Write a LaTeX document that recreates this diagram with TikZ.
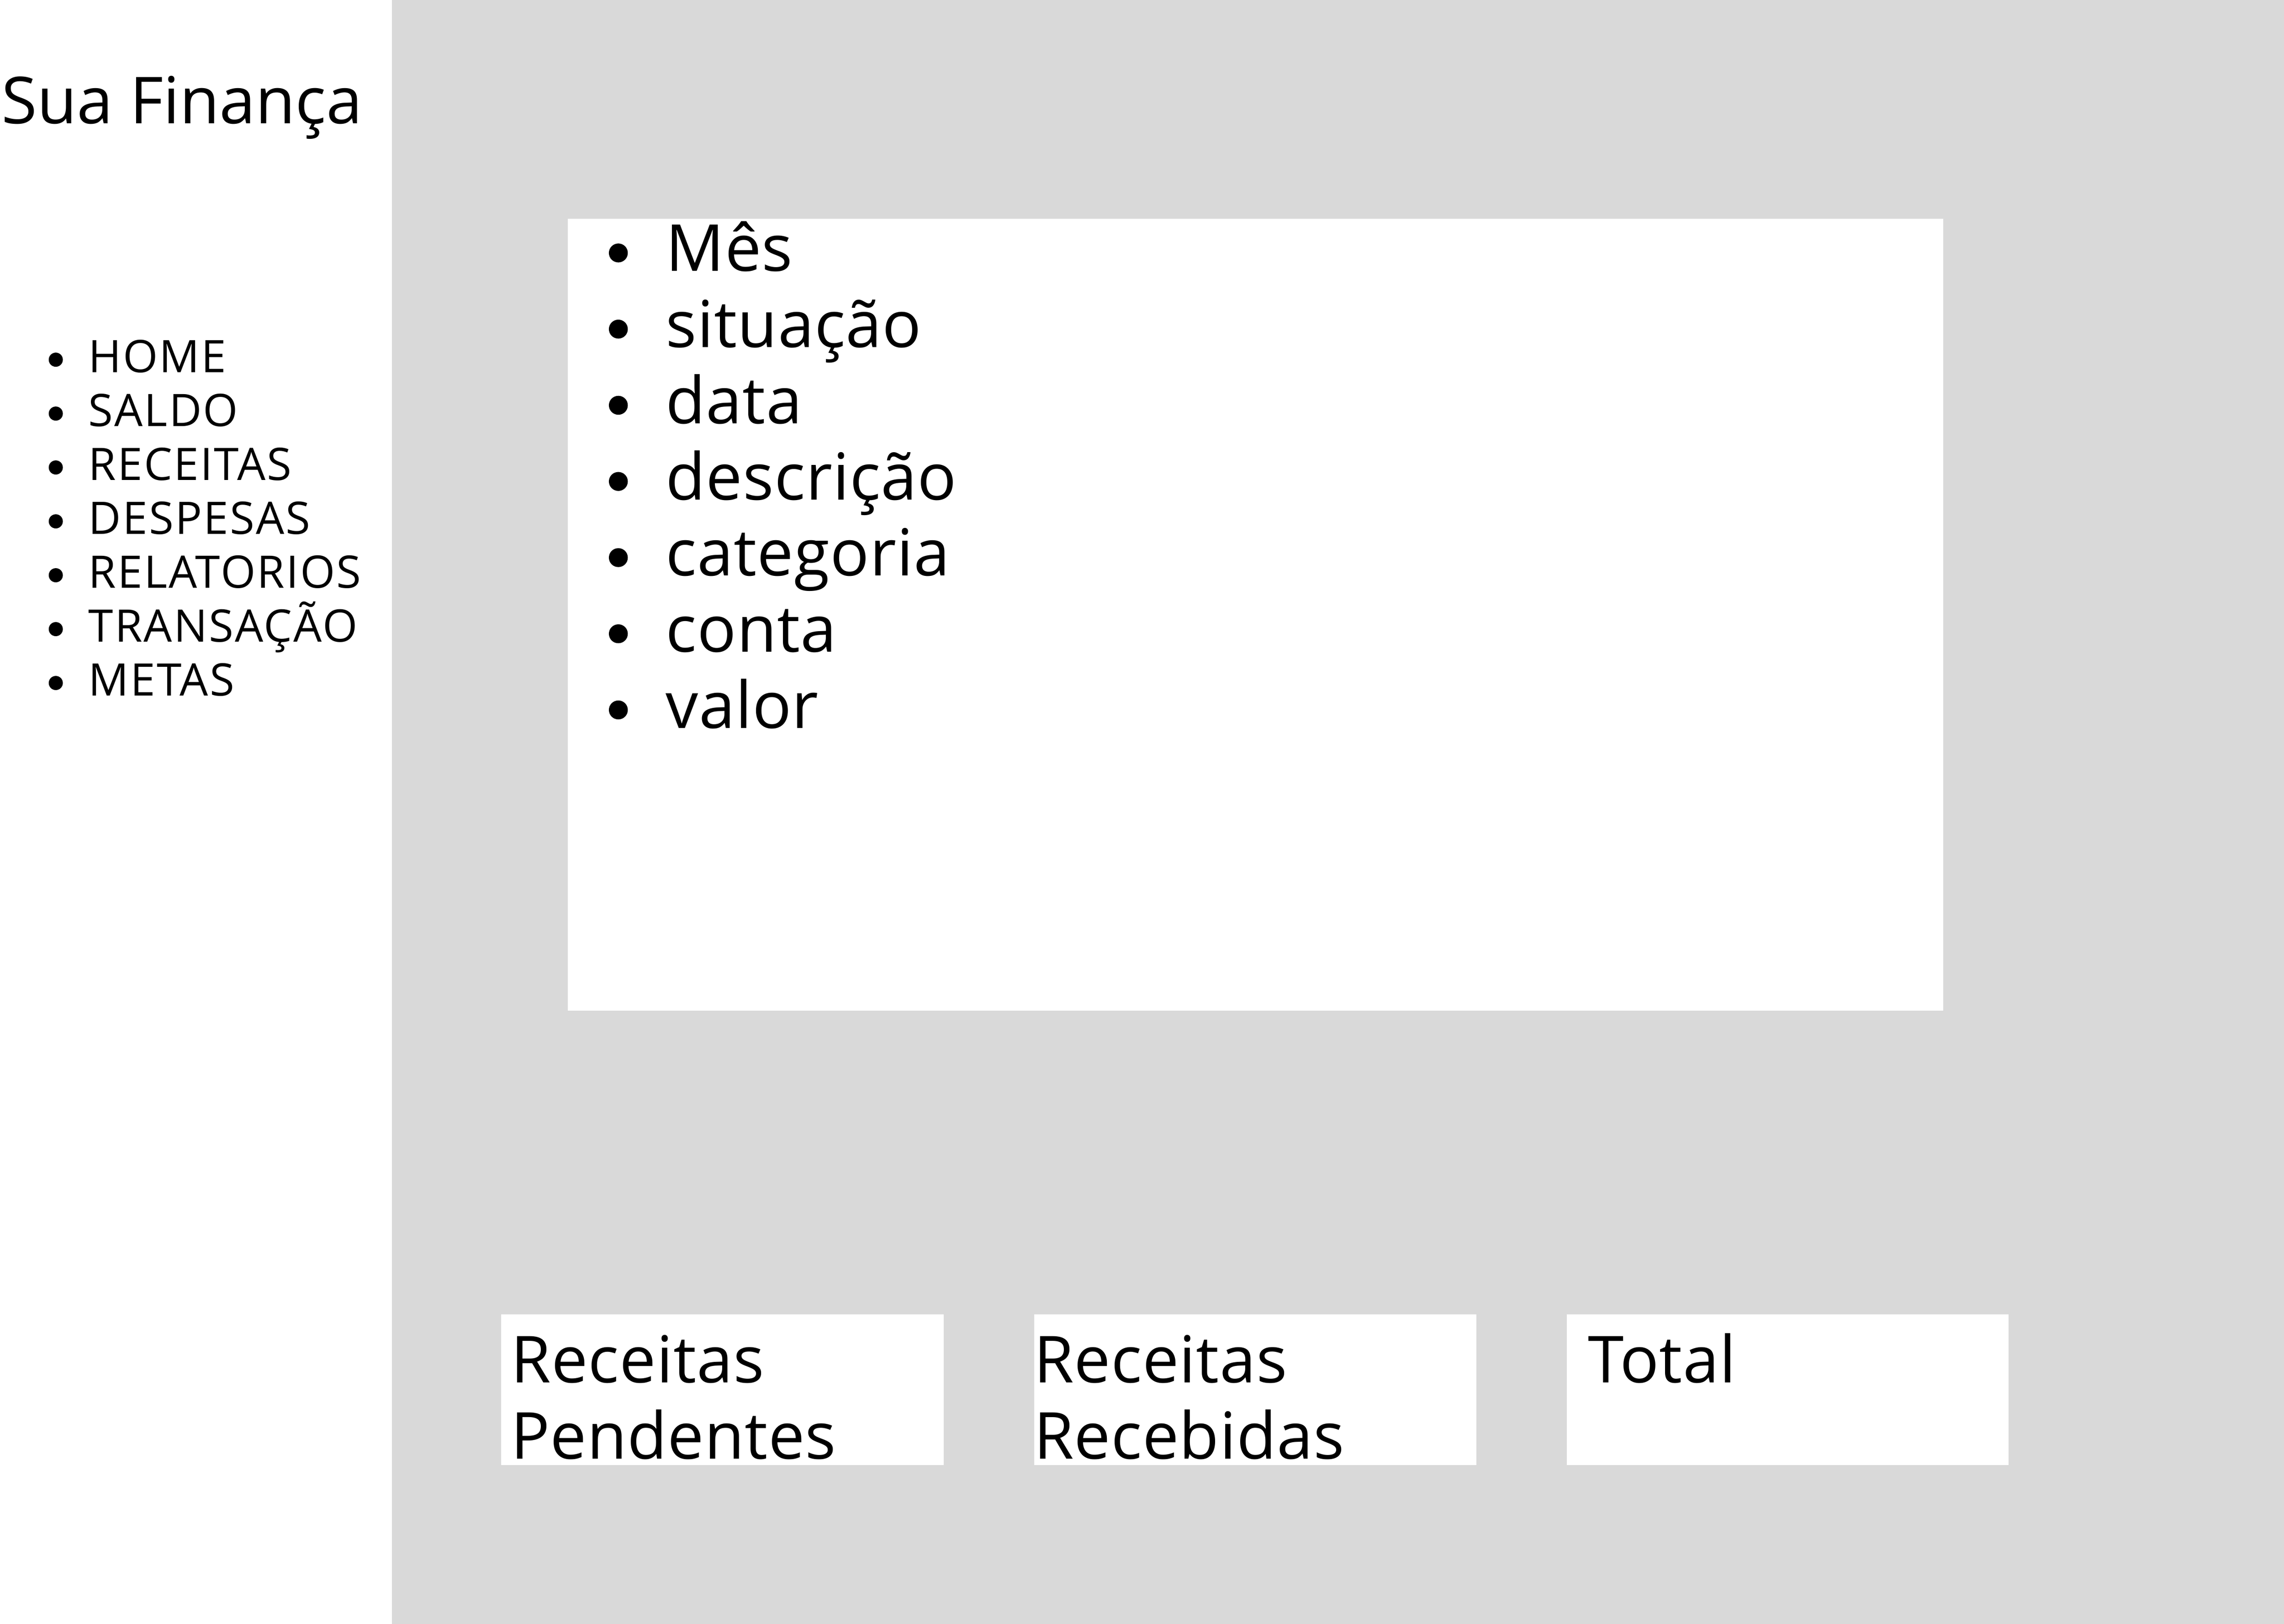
\documentclass[tikz,border=0pt]{standalone}
\usepackage{fontspec}
\setmainfont{Open Sans}
\definecolor{panelgray}{HTML}{D9D9D9}
\tikzset{
  menutxt/.style={anchor=base west,inner sep=0pt,font=\fontsize{30.8}{37}\selectfont\addfontfeatures{LetterSpace=3.2}},
  bigtxt/.style={anchor=base west,inner sep=0pt,font=\fontsize{44.5}{52.3}\selectfont\addfontfeatures{LetterSpace=0.8}},
  card/.style={fill=white},
}
\begin{document}
\begin{tikzpicture}[x=1pt,y=-1pt]
\useasboundingbox (0,0) rectangle (1568,1115.1);
\fill[white] (0,0) rectangle (1568,1115.1);
\fill[panelgray] (269,0) rectangle (1568,1115.1);
% cards
\fill[card] (389.7,150.2) rectangle (1334,694);
\fill[card] (344,902.6) rectangle (647.8,1006);
\fill[card] (710,902.6) rectangle (1013.4,1006);
\fill[card] (1075.6,902.6) rectangle (1379,1006);
% title
\node[anchor=base west,inner sep=0pt,font=\fontsize{44.5}{52.3}\selectfont] (title) at (1,84.7) {Sua Finança};
% menu
\node[menutxt] (home) at (60.5,255.8) {HOME};
\node[menutxt] (saldo) at (60.5,292.8) {SALDO};
\node[menutxt] (receitas) at (60.5,329.8) {RECEITAS};
\node[menutxt] (despesas) at (60.5,366.8) {DESPESAS};
\node[menutxt] (relatorios) at (60.5,403.8) {RELATORIOS};
\node[menutxt] (transacao) at (60.5,440.8) {TRANSAÇÃO};
\node[menutxt] (metas) at (60.5,477.8) {METAS};
\fill (38.3,247) circle (4.85);
\fill (38.3,284) circle (4.85);
\fill (38.3,321) circle (4.85);
\fill (38.3,358) circle (4.85);
\fill (38.3,395) circle (4.85);
\fill (38.3,432) circle (4.85);
\fill (38.3,469) circle (4.85);
% fields
\node[bigtxt] (mes) at (457,186.2) {Mês};
\node[bigtxt] (situacao) at (457,238.5) {situação};
\node[bigtxt] (data) at (457,290.8) {data};
\node[bigtxt] (descricao) at (457,343.1) {descrição};
\node[bigtxt] (categoria) at (457,395.4) {categoria};
\node[bigtxt] (conta) at (457,447.7) {conta};
\node[bigtxt] (valor) at (457,500) {valor};
\fill (424.5,173.7) circle (6.5);
\fill (424.5,226) circle (6.5);
\fill (424.5,278.3) circle (6.5);
\fill (424.5,330.6) circle (6.5);
\fill (424.5,382.9) circle (6.5);
\fill (424.5,435.2) circle (6.5);
\fill (424.5,487.5) circle (6.5);
% totals
\node[bigtxt] (pend1) at (350.5,949.4) {Receitas};
\node[bigtxt] (pend2) at (350.5,1001.7) {Pendentes};
\node[bigtxt] (rec1) at (709.5,949.4) {Receitas};
\node[bigtxt] (rec2) at (709.5,1001.7) {Recebidas};
\node[bigtxt] (total) at (1090,949.4) {Total};
\end{tikzpicture}
\end{document}
